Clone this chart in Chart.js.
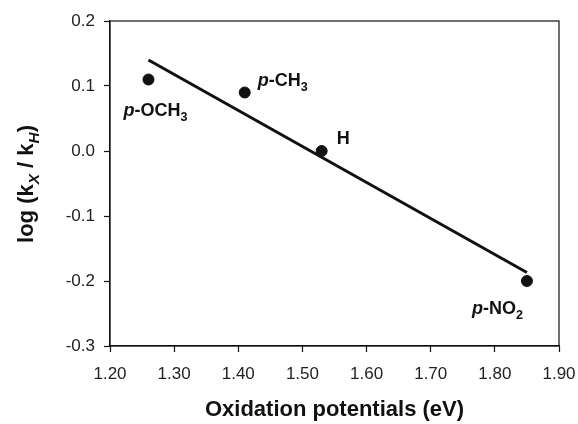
<!DOCTYPE html>
<html>
<head>
<meta charset="utf-8">
<script src="https://cdn.jsdelivr.net/npm/chart.js@4.4.0/dist/chart.umd.min.js"></script>
<style>
  html, body { margin: 0; padding: 0; background: #fff; }
  #wrap { width: 578px; height: 424px; }
</style>
</head>
<body>
<div id="wrap"><canvas id="graf"></canvas></div>
<script>
// substituents and their values
const nomes = ["p-OCH3", "p-CH3", "H", "p-NO2"]
const potenciais = [1.26, 1.41, 1.53, 1.85]
const logK = [0.11, 0.09, 0.00, -0.20]
// fitted line, ends
const linhaX = [1.26, 1.85]
const linhaY = [0.14, -0.187]
const xTicks = [1.2, 1.3, 1.4, 1.5, 1.6, 1.7, 1.8, 1.9]
const yTicks = [-0.3, -0.2, -0.1, 0.0, 0.1, 0.2]

// label pieces: [text, style] with style n=normal, i=italic, s=subscript
const rotulos = [
  [["p", "i"], ["-OCH", "n"], ["3", "s"]],
  [["p", "i"], ["-CH", "n"], ["3", "s"]],
  [["H", "n"]],
  [["p", "i"], ["-NO", "n"], ["2", "s"]]
]
// where each label sits relative to its point (px)
const desloc = [[-25, 36], [13, -7], [15, -7], [-55, 33]]

const FONTE = "'Liberation Sans', Arial, sans-serif"

function fonteDe(s, tam) {
  let size = (s === "s" || s === "si") ? tam * 0.7 : tam
  let it = (s === "i" || s === "si") ? "italic " : ""
  return it + "bold " + size + "px " + FONTE
}
function textoRico(ctx, partes, x, y, tam) {
  let cx = x
  partes.forEach(([t, s]) => {
    ctx.font = fonteDe(s, tam)
    let dy = (s === "s" || s === "si") ? tam * 0.28 : 0
    ctx.fillText(t, cx, y + dy)
    cx += ctx.measureText(t).width
  })
  return cx - x
}
function larguraRica(ctx, partes, tam) {
  let w = 0
  partes.forEach(([t, s]) => {
    ctx.font = fonteDe(s, tam)
    w += ctx.measureText(t).width
  })
  return w
}

const extras = {
  id: "extras",
  afterDraw(chart) {
    const ctx = chart.ctx
    const a = chart.chartArea
    const sx = chart.scales.x, sy = chart.scales.y
    ctx.save()
    // box
    ctx.strokeStyle = "#111"
    ctx.lineWidth = 1.2
    ctx.strokeRect(a.left, a.top, a.right - a.left, a.bottom - a.top)
    // point labels
    ctx.fillStyle = "#111"
    ctx.textBaseline = "alphabetic"
    ctx.textAlign = "left"
    potenciais.forEach((px, i) => {
      let x = sx.getPixelForValue(px) + desloc[i][0]
      let y = sy.getPixelForValue(logK[i]) + desloc[i][1]
      textoRico(ctx, rotulos[i], x, y, 18)
    })
    // y title
    const tit = [["log (k", "n"], ["X", "si"], [" / k", "n"], ["H", "si"], [")", "n"]]
    ctx.translate(33, 184)
    ctx.rotate(-Math.PI / 2)
    let w = larguraRica(ctx, tit, 22)
    textoRico(ctx, tit, -w / 2, 0, 22)
    ctx.restore()
  }
}

new Chart(document.getElementById("graf"), {
  type: "scatter",
  data: {
    datasets: [
      {
        label: "ajuste",
        type: "line",
        data: linhaX.map((x, i) => ({ x: x, y: linhaY[i] })),
        borderColor: "#111",
        borderWidth: 3,
        pointRadius: 0,
        fill: false
      },
      {
        label: "pontos",
        data: potenciais.map((x, i) => ({ x: x, y: logK[i] })),
        backgroundColor: "#111",
        borderColor: "#111",
        pointRadius: 5.5
      }
    ]
  },
  options: {
    responsive: true,
    maintainAspectRatio: false,
    animation: false,
    layout: { padding: { top: 21, right: 19, left: 0, bottom: 0 } },
    plugins: { legend: { display: false }, tooltip: { enabled: false } },
    scales: {
      x: {
        type: "linear",
        min: 1.2, max: 1.9,
        afterBuildTicks: s => { s.ticks = xTicks.map(v => ({ value: v })) },
        afterFit: s => { s.height = 78; s.paddingRight = 0; s.paddingLeft = 0 },
        grid: { drawOnChartArea: false, tickLength: 6, tickColor: "#111", tickWidth: 1.2 },
        border: { color: "#111", width: 1.2 },
        ticks: {
          color: "#222",
          font: { family: FONTE, size: 17 },
          padding: 12,
          maxRotation: 0,
          callback: v => v.toFixed(2)
        },
        title: {
          display: true,
          text: "Oxidation potentials (eV)",
          color: "#111",
          font: { family: FONTE, size: 22, weight: "bold" },
          padding: { top: 9, bottom: 1 }
        }
      },
      y: {
        min: -0.3, max: 0.2,
        afterBuildTicks: s => { s.ticks = yTicks.map(v => ({ value: v })) },
        afterFit: s => { s.width = 110; s.paddingTop = 0; s.paddingBottom = 0 },
        grid: { drawOnChartArea: false, tickLength: 6, tickColor: "#111", tickWidth: 1.2 },
        border: { color: "#111", width: 1.2 },
        ticks: {
          color: "#222",
          font: { family: FONTE, size: 17 },
          padding: 9,
          callback: v => v.toFixed(1)
        }
      }
    }
  },
  plugins: [extras]
})
</script>
</body>
</html>
